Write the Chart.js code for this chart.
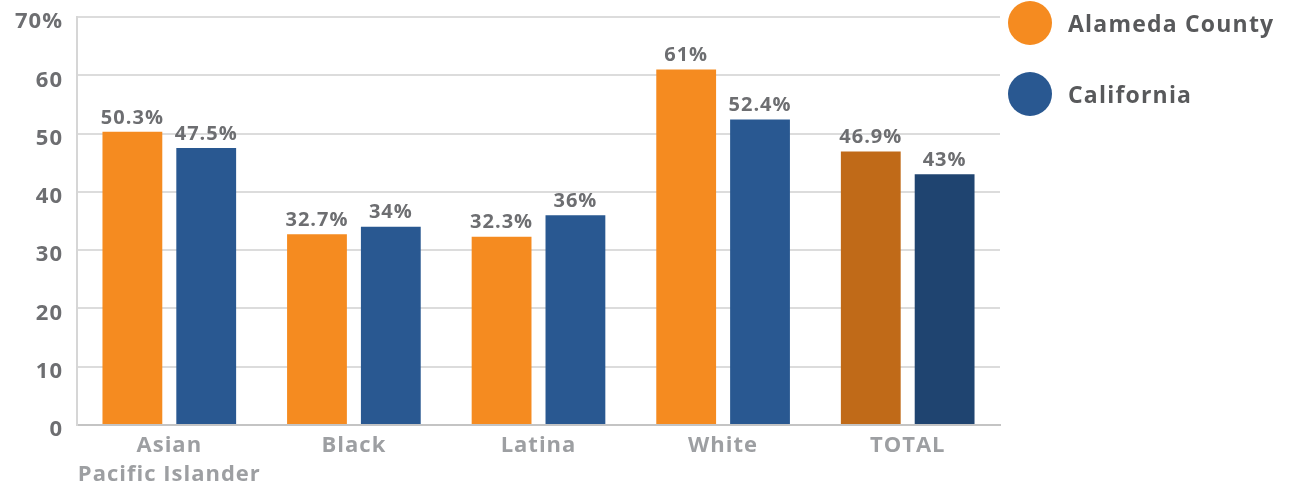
<!DOCTYPE html>
<html>
<head>
<meta charset="utf-8">
<script src="https://cdn.jsdelivr.net/npm/chart.js@4.4.0/dist/chart.umd.min.js"></script>
<style>
    body { margin: 0; background: #ffffff; font-family: "Open Sans", sans-serif; }
    #wrap { position: relative; width: 1293px; height: 488px; }
    #legend { position: absolute; left: 1008px; top: 1px; }
    .lgitem { display: flex; align-items: center; height: 44px; margin-bottom: 27px; }
    .lgdot { width: 44px; height: 44px; border-radius: 50%; margin-right: 16px; }
    .lgtext { font-size: 23px; font-weight: 700; color: #58595b; letter-spacing: 1.2px; }
</style>
</head>
<body>
<div id="wrap">
    <canvas id="barChartRace" width="1293" height="488"></canvas>
    <div id="legend"></div>
</div>
<script>
var categories = [["Asian", "Pacific Islander"], "Black", "Latina", "White", "TOTAL"];
var seriesNames = ["Alameda County", "California"];
var alamedaValues = [50.3, 32.7, 32.3, 61, 46.9];
var californiaValues = [47.5, 34, 36, 52.4, 43];
var yTicks = [0, 10, 20, 30, 40, 50, 60, 70];

var orange = "#F58B20";
var blue = "#295891";
var orangeDark = "#C06A18";
var blueDark = "#1F4470";
var fontName = "'Open Sans'";

// wider letters, closer to the original typeface
var spacingPlugin = {
    id: "spacing",
    beforeUpdate: function (chart) { chart.ctx.letterSpacing = "1px"; },
    beforeDraw: function (chart) { chart.ctx.letterSpacing = "1px"; }
};

// value labels above every bar
var barValuePlugin = {
    id: "barValues",
    afterDatasetsDraw: function (chart) {
        var ctx = chart.ctx;
        ctx.save();
        ctx.font = "700 20px " + fontName;
        ctx.fillStyle = "#6d6e71";
        ctx.textAlign = "center";
        ctx.textBaseline = "bottom";
        chart.data.datasets.forEach(function (ds, i) {
            var meta = chart.getDatasetMeta(i);
            meta.data.forEach(function (bar, j) {
                ctx.fillText(ds.data[j] + "%", bar.x, bar.y - 4);
            });
        });
        ctx.restore();
    }
};

var chartDiv = document.getElementById("barChartRace");
var myChart = new Chart(chartDiv, {
    type: 'bar',
    data: {
        labels: categories,
        datasets: [
            {
                label: seriesNames[0],
                data: alamedaValues,
                backgroundColor: [orange, orange, orange, orange, orangeDark]
            },
            {
                label: seriesNames[1],
                data: californiaValues,
                backgroundColor: [blue, blue, blue, blue, blueDark]
            }]
    },
    plugins: [spacingPlugin, barValuePlugin],
    options: {
        responsive: false,
        animation: false,
        layout: {
            padding: { left: 0, right: 293, top: 17, bottom: -7 }
        },
        datasets: {
            bar: {
                categoryPercentage: 0.8,
                barPercentage: 0.81
            }
        },
        plugins: {
            legend: { display: false },
            tooltip: { enabled: false }
        },
        scales: {
            x: {
                grid: { display: false, drawTicks: false },
                border: { color: "#c4c4c4", width: 2 },
                ticks: {
                    color: "#9d9fa2",
                    padding: 6,
                    maxRotation: 0,
                    minRotation: 0,
                    autoSkip: false,
                    font: { family: fontName, size: 22, weight: 700, lineHeight: 1.32 }
                }
            },
            y: {
                min: 0,
                max: 70,
                afterBuildTicks: function (axis) {
                    axis.ticks = yTicks.map(function (v) { return { value: v }; });
                },
                afterFit: function (axis) {
                    axis.width = 77;
                    axis.paddingTop = 0;
                },
                grid: { color: "#dcdcdc", lineWidth: 2, drawTicks: false },
                border: { color: "#d6d6d6", width: 2 },
                ticks: {
                    color: "#6d6e71",
                    padding: 14,
                    labelOffset: 5,
                    font: { family: fontName, size: 22, weight: 700 },
                    callback: function (value) {
                        return value === 70 ? value + "%" : value;
                    }
                }
            }
        }
    }
});

// legend on the right side
var legendColors = [orange, blue];
var html = '';
seriesNames.forEach(function (name, i) {
    html += '<div class="lgitem"><div class="lgdot" style="background:' + legendColors[i] + '"></div><span class="lgtext">' + name + '</span></div>';
});
document.getElementById("legend").innerHTML = html;
</script>
</body>
</html>
